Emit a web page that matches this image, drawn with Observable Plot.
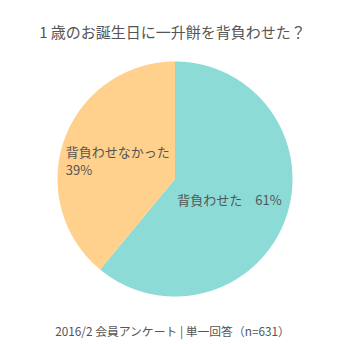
<!DOCTYPE html>
<html>
<head>
<meta charset="utf-8">
<script src="https://cdn.jsdelivr.net/npm/d3@7"></script>
<script src="https://cdn.jsdelivr.net/npm/@observablehq/plot@0.6"></script>
<style>
  html, body { margin: 0; padding: 0; background: #fff; }
  #chart svg { display: block; }
</style>
</head>
<body>
<div id="chart"></div>
<script>
const title = "1 歳のお誕生日に一升餅を背負わせた？";
const caption = "2016/2 会員アンケート | 単一回答（n=631）";
const categories = ["背負わせた", "背負わせなかった"];
const values = [61, 39];
const colors = ["#8cdbd6", "#ffd18c"];

const pie = d3.pie().sort(null).value(d => d)(values);
const slices = pie.map((p, i) => {
  const pts = [{slice: categories[i], x: 0, y: 0}];
  const n = Math.max(2, Math.ceil((p.endAngle - p.startAngle) / (Math.PI / 360)));
  for (let k = 0; k <= n; k++) {
    const a = p.startAngle + (p.endAngle - p.startAngle) * k / n;
    pts.push({slice: categories[i], x: Math.sin(a), y: Math.cos(a)});
  }
  pts.push({slice: categories[i], x: 0, y: 0});
  return pts;
});

const labels = [
  {text: `${categories[0]}　${values[0]}%`, x: 0.02, y: -0.19},
  {text: categories[1], x: -0.93, y: 0.225},
  {text: `${values[1]}%`, x: -0.93, y: 0.07}
];

const font = "'Noto Sans CJK JP', 'Noto Sans', sans-serif";
const chart = Plot.plot({
  width: 344,
  height: 344,
  margin: 0,
  x: {domain: [-1, 1], range: [57, 292], axis: null},
  y: {domain: [-1, 1], range: [296, 61], axis: null},
  style: {fontFamily: font, background: "#fff"},
  marks: [
    ...slices.map((s, i) => Plot.line(s, {x: "x", y: "y", fill: colors[i], stroke: "none", curve: "linear"})),
    Plot.text(labels, {x: "x", y: "y", text: "text", textAnchor: "start", fontSize: 13, fill: "#555"}),
    Plot.text([title], {frameAnchor: "top", dy: 27, text: d => d, fontSize: 15, fill: "#555", fontFamily: font}),
    Plot.text([caption], {frameAnchor: "top", dy: 327, text: d => d, fontSize: 11.8, fill: "#555", fontFamily: font})
  ]
});
document.getElementById("chart").appendChild(chart);
</script>
</body>
</html>
